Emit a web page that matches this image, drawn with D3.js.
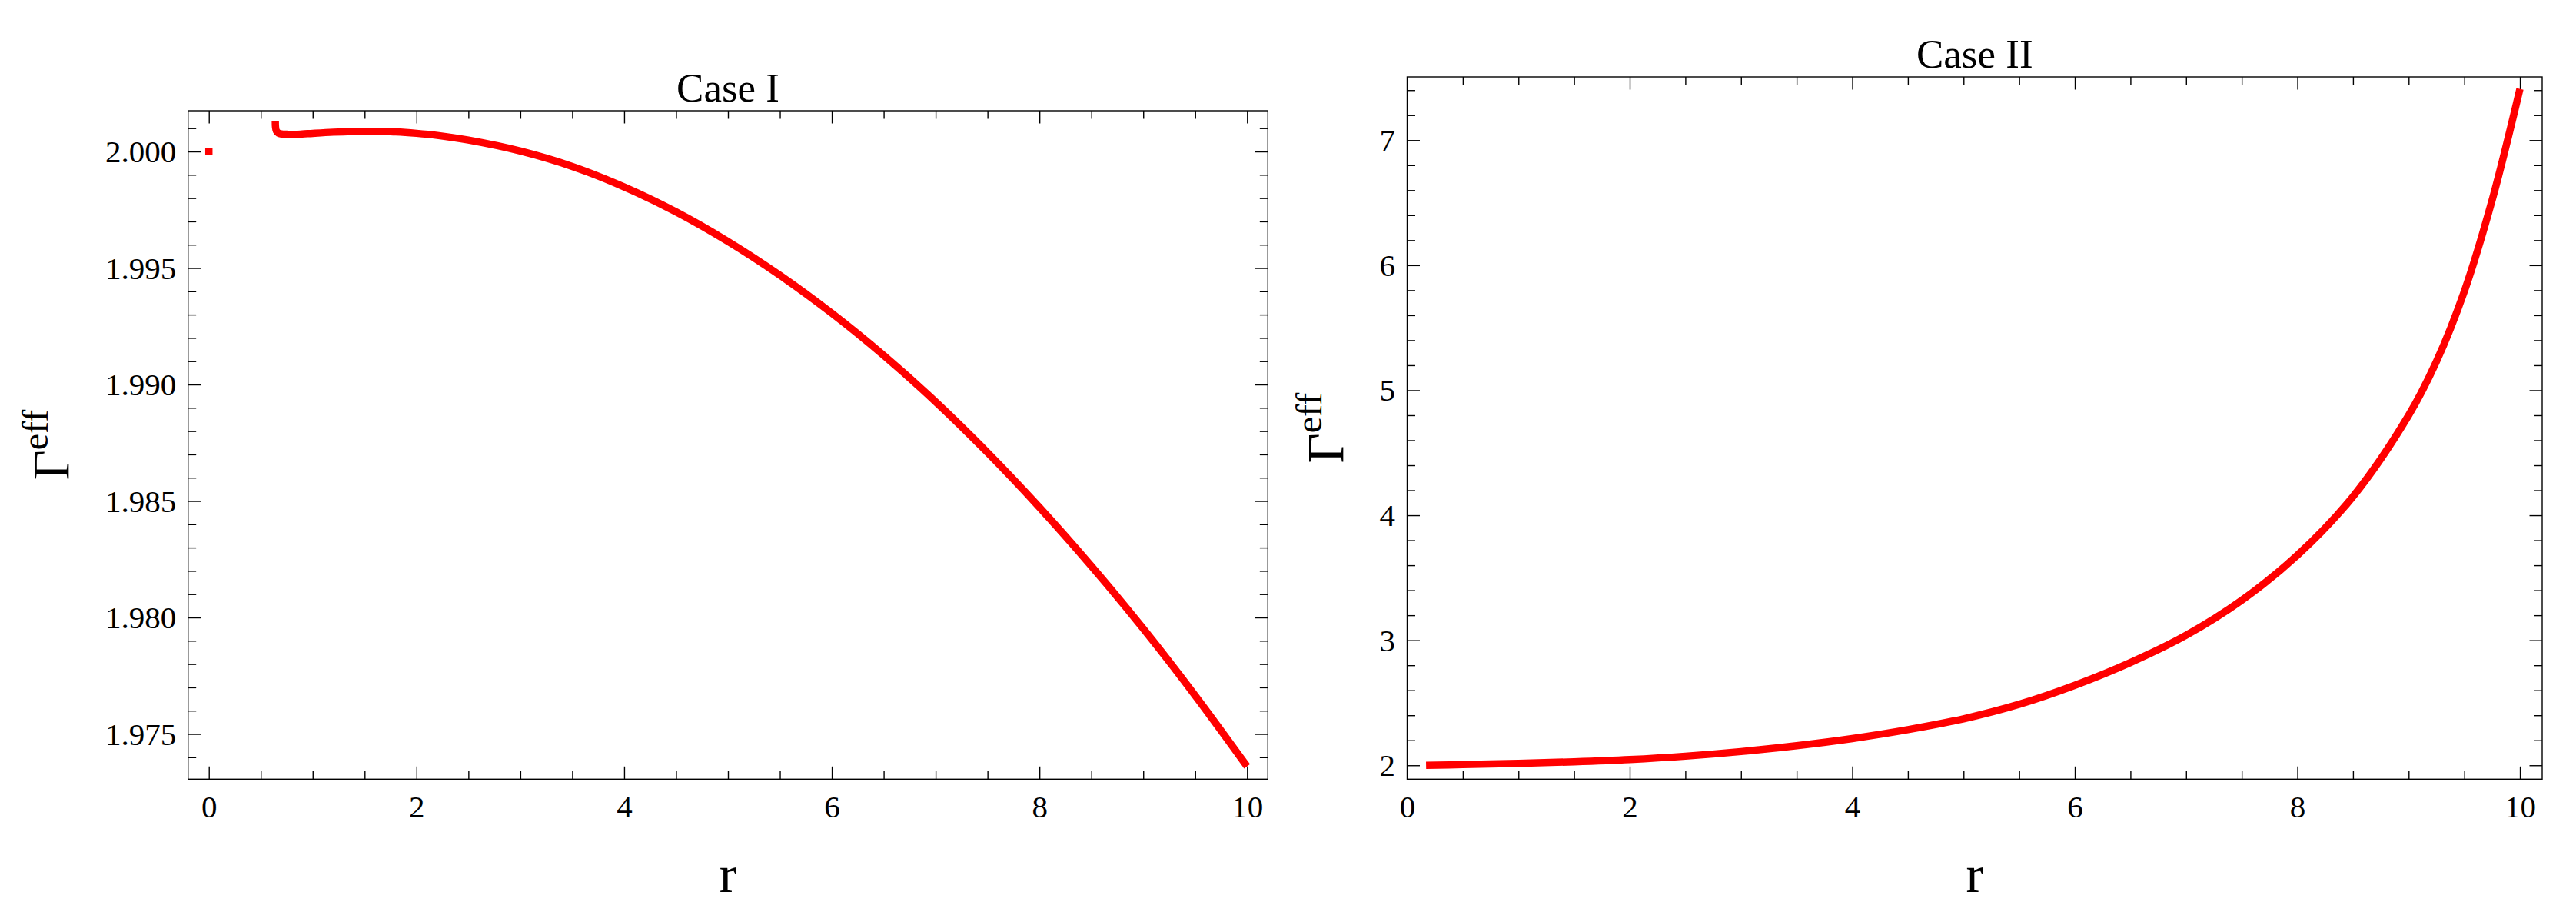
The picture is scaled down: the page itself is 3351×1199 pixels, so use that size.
<!DOCTYPE html>
<html>
<head>
<meta charset="utf-8">
<script src="https://cdn.jsdelivr.net/npm/d3@7"></script>
<style>
  html, body { margin: 0; padding: 0; background: #fff; }
  svg { display: block; }
  svg text { font-family: "Liberation Serif", "DejaVu Serif", serif !important; fill: #000; }
</style>
</head>
<body>
<svg id="chart" width="3351" height="1199"></svg>
<script>
// ---------- DATA ----------
const caseI_r = [0.640, 0.642, 0.650, 0.670, 0.700, 0.750, 0.800, 0.900, 1.000, 1.200, 1.500, 1.800, 2.000, 2.200, 2.500, 3.000, 3.500, 4.000, 4.500, 5.000, 5.500, 6.000, 6.500, 7.000, 7.500, 8.000, 8.500, 9.000, 9.500, 10.000];
const caseI_G = [2.00131, 2.00105, 2.00088, 2.00079, 2.00075, 2.00074, 2.00073, 2.00075, 2.00078, 2.00083, 2.00087, 2.00084, 2.00078, 2.00069, 2.00049, 2.00002, 1.99936, 1.99848, 1.99741, 1.99614, 1.99469, 1.99306, 1.99125, 1.98926, 1.98708, 1.98473, 1.98221, 1.97952, 1.97665, 1.97361];
const caseI_point = [0, 2.000];   // isolated point at r = 0

const caseII_r = [0.17, 0.5, 1.0, 1.5, 2.0, 2.5, 3.0, 3.5, 4.0, 4.5, 5.0, 5.5, 6.0, 6.5, 7.0, 7.5, 8.0, 8.5, 9.0, 9.25, 9.5, 9.75, 10.0];
const caseII_G = [2.000, 2.006, 2.015, 2.028, 2.046, 2.073, 2.110, 2.157, 2.214, 2.285, 2.372, 2.488, 2.640, 2.822, 3.040, 3.320, 3.680, 4.150, 4.800, 5.230, 5.790, 6.520, 7.410];

const titles = ["Case I", "Case II"];
const xLabel = "r";
const yLabelMain = "Γ";
const yLabelSup = "eff";

const xMajorTicks = [0, 2, 4, 6, 8, 10];
const caseI_yMajorTicks = [1.975, 1.980, 1.985, 1.990, 1.995, 2.000];
const caseII_yMajorTicks = [2, 3, 4, 5, 6, 7];

// ---------- LAYOUT ----------
const svg = d3.select("#chart");
svg.append("rect").attr("width", 3351).attr("height", 1199).attr("fill", "#fff");

const RED = "#ff0000";
const LW = 9.5;
const SERIF = "'Liberation Serif', 'DejaVu Serif', serif";
const TICK_FS = 41, TITLE_FS = 53, LABEL_FS = 68, SUP_FS = 48;

function panel(cfg) {
  const { left, right, top, bottom, xDom, yDom, xMinorStep, yMinorStep, yFmt,
          yMajor, title, gammaX, data } = cfg;
  const x = d3.scaleLinear().domain(xDom).range([left, right]);
  const y = d3.scaleLinear().domain(yDom).range([bottom, top]);
  const g = svg.append("g");

  const eps = 1e-9;
  const xMinor = d3.range(Math.ceil(xDom[0] / xMinorStep) * xMinorStep, xDom[1] + eps, xMinorStep)
    .filter(v => !xMajorTicks.some(m => Math.abs(m - v) < 1e-6));
  const yMinor = d3.range(Math.ceil((yDom[0] - eps) / yMinorStep), Math.floor((yDom[1] + eps) / yMinorStep) + 1)
    .map(k => +(k * yMinorStep).toFixed(6))
    .filter(v => v >= yDom[0] && v <= yDom[1])
    .filter(v => !yMajor.some(m => Math.abs(m - v) < 1e-6));

  const MAJ = 16.5, MIN = 10.5;

  g.append("g").attr("transform", `translate(0,${bottom})`)
    .call(d3.axisBottom(x).tickValues(xMajorTicks).tickSize(-MAJ).tickSizeOuter(0).tickPadding(20.9).tickFormat(d3.format("d")));
  g.append("g").attr("transform", `translate(0,${bottom})`)
    .call(d3.axisBottom(x).tickValues(xMinor).tickSize(-MIN).tickSizeOuter(0).tickFormat(""));
  g.append("g").attr("transform", `translate(0,${top})`)
    .call(d3.axisTop(x).tickValues(xMajorTicks).tickSize(-MAJ).tickSizeOuter(0).tickFormat(""));
  g.append("g").attr("transform", `translate(0,${top})`)
    .call(d3.axisTop(x).tickValues(xMinor).tickSize(-MIN).tickSizeOuter(0).tickFormat(""));
  const lMaj = g.append("g").attr("transform", `translate(${left},0)`)
    .call(d3.axisLeft(y).tickValues(yMajor).tickSize(-MAJ).tickSizeOuter(0).tickPadding(15.5).tickFormat(yFmt));
  g.append("g").attr("transform", `translate(${left},0)`)
    .call(d3.axisLeft(y).tickValues(yMinor).tickSize(-MIN).tickSizeOuter(0).tickFormat(""));
  g.append("g").attr("transform", `translate(${right},0)`)
    .call(d3.axisRight(y).tickValues(yMajor).tickSize(-MAJ).tickSizeOuter(0).tickFormat(""));
  g.append("g").attr("transform", `translate(${right},0)`)
    .call(d3.axisRight(y).tickValues(yMinor).tickSize(-MIN).tickSizeOuter(0).tickFormat(""));

  g.selectAll(".domain").remove();
  g.selectAll("g").attr("font-family", SERIF);
  g.selectAll(".tick line").attr("stroke", "#000").attr("stroke-width", 1.4);
  g.selectAll(".tick text")
    .attr("font-family", SERIF).style("font-family", SERIF)
    .attr("font-size", TICK_FS).attr("fill", "#000");
  lMaj.selectAll(".tick text").attr("dy", "0.33em");

  g.append("rect").attr("x", left).attr("y", top)
    .attr("width", right - left).attr("height", bottom - top)
    .attr("fill", "none").attr("stroke", "#000").attr("stroke-width", 1.4);

  const cid = "clip" + Math.round(left);
  svg.append("clipPath").attr("id", cid).append("rect")
    .attr("x", left).attr("y", top).attr("width", right - left).attr("height", bottom - top);

  const line = d3.line().x(d => x(d[0])).y(d => y(d[1])).curve(d3.curveCatmullRom.alpha(0.5));
  g.append("path").datum(data)
    .attr("clip-path", `url(#${cid})`)
    .attr("d", line).attr("fill", "none").attr("stroke", RED)
    .attr("stroke-width", LW).attr("stroke-linecap", "butt").attr("stroke-linejoin", "round");

  if (cfg.point) {
    g.append("rect")
      .attr("x", x(cfg.point[0]) - LW / 2).attr("y", y(cfg.point[1]) - LW / 2)
      .attr("width", LW).attr("height", LW).attr("fill", RED);
  }

  g.append("text").attr("x", (left + right) / 2).attr("y", top - 11.7)
    .attr("text-anchor", "middle").attr("font-size", TITLE_FS).style("font-family", SERIF).text(title);

  g.append("text").attr("x", (left + right) / 2).attr("y", 1160)
    .attr("text-anchor", "middle").attr("font-size", LABEL_FS).style("font-family", SERIF).text(xLabel);

  const cy = (top + bottom) / 2;
  const t = g.append("text").attr("transform", `translate(${gammaX},${cy}) rotate(-90)`)
    .attr("text-anchor", "middle").attr("font-size", LABEL_FS).style("font-family", SERIF);
  t.append("tspan").text(yLabelMain);
  t.append("tspan").attr("font-size", SUP_FS).attr("dy", -27.6).text(yLabelSup);
}

panel({
  left: 244.7, right: 1649.3, top: 144, bottom: 1013.3,
  xDom: [-0.2, 10.2], yDom: [1.97306, 2.00175],
  xMinorStep: 0.5, yMinorStep: 0.001, yFmt: d3.format(".3f"),
  yMajor: caseI_yMajorTicks, title: titles[0], gammaX: 89.3,
  data: caseI_r.map((r, i) => [r, caseI_G[i]]), point: caseI_point
});

panel({
  left: 1830.5, right: 3307, top: 100, bottom: 1013.3,
  xDom: [0, 10.2], yDom: [1.889, 7.506],
  xMinorStep: 0.5, yMinorStep: 0.2, yFmt: d3.format("d"),
  yMajor: caseII_yMajorTicks, title: titles[1], gammaX: 1747,
  data: caseII_r.map((r, i) => [r, caseII_G[i]])
});
</script>
</body>
</html>
